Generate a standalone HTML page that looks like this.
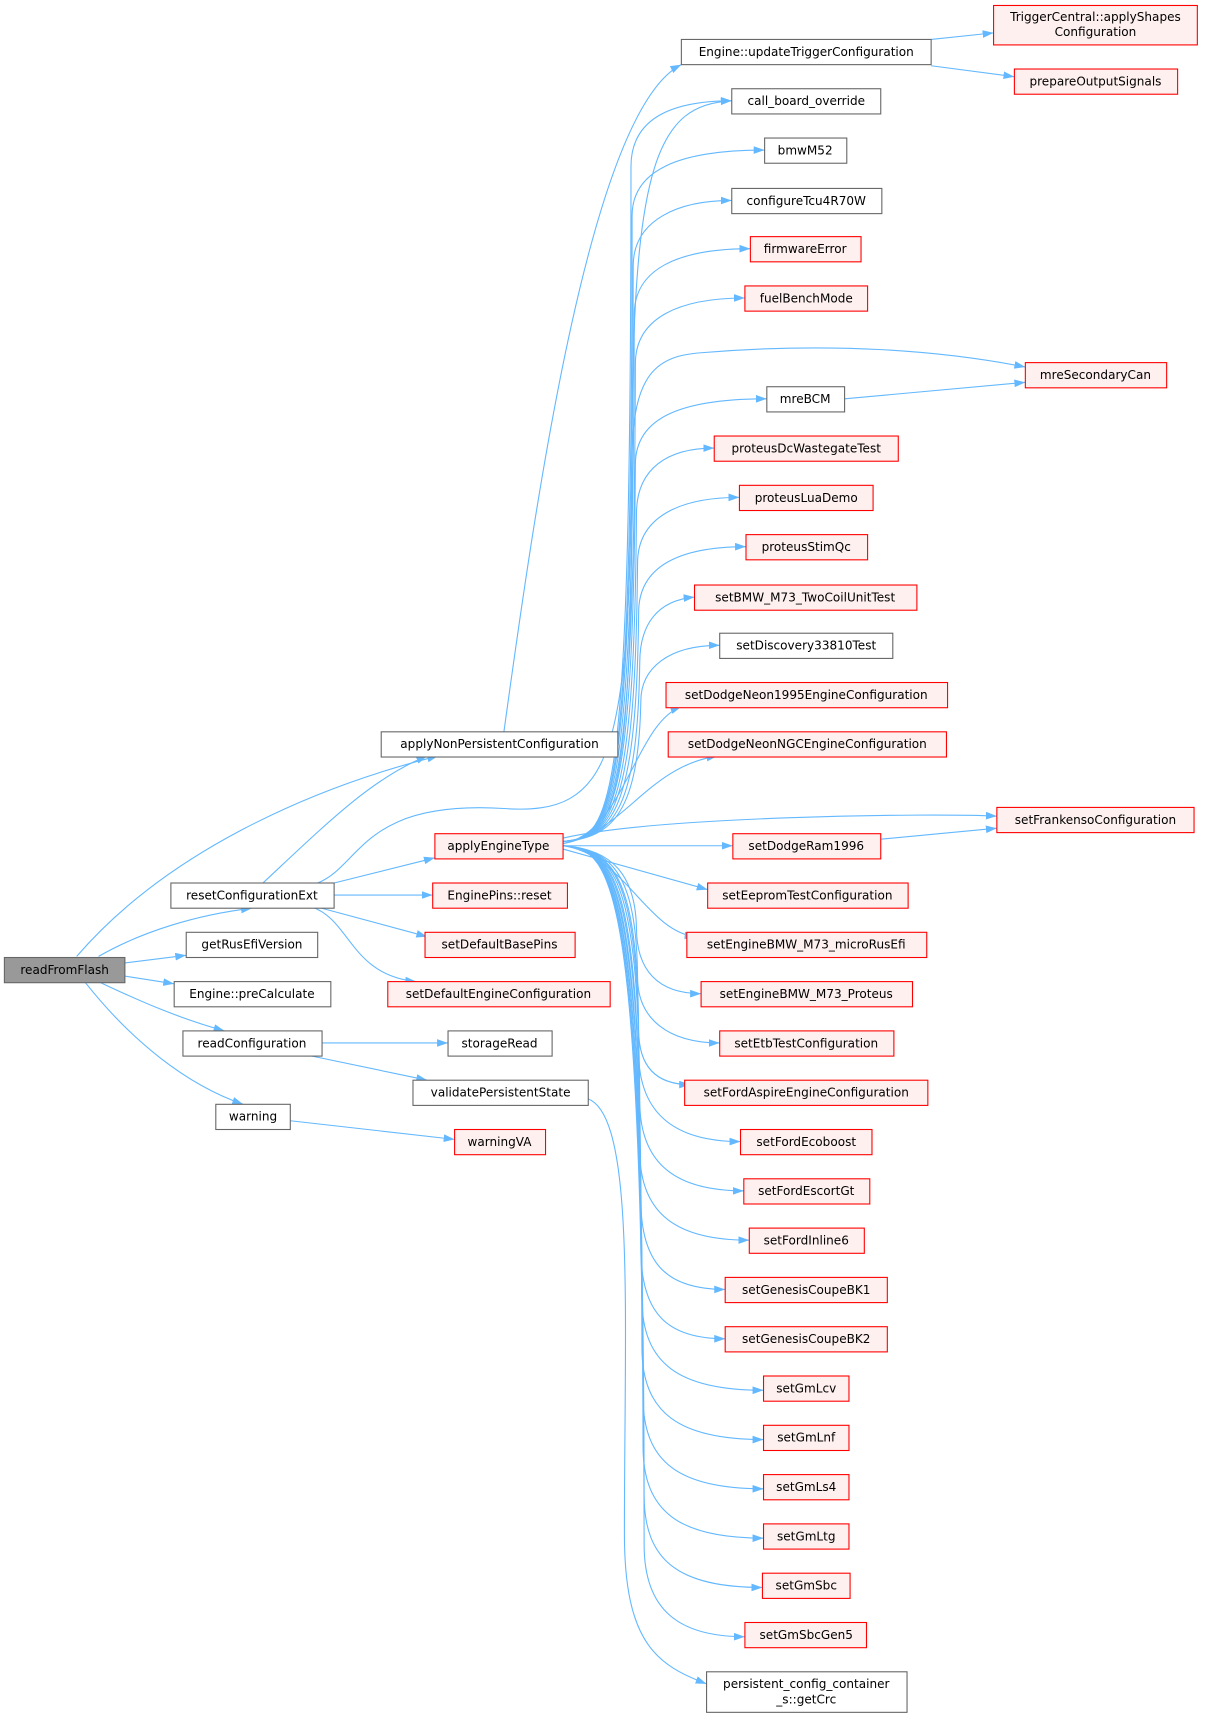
<!DOCTYPE html>
<html><head><meta charset="utf-8"><style>
html,body{margin:0;padding:0;background:#fff;}
svg{display:block}
text{font-family:"DejaVu Sans","Liberation Sans",sans-serif;font-size:11px;fill:#000;text-anchor:middle}
.n{fill:#fff;stroke:#666;stroke-width:1}
.r{fill:#fff0f0;stroke:#f00;stroke-width:1}
.g{fill:#999;stroke:#666;stroke-width:1}
path.e{fill:none;stroke:#63b8ff;stroke-width:1}
</style></head><body>
<svg width="1205" height="1720" viewBox="0 0 1100 1570" preserveAspectRatio="none">
<defs><marker id="a" markerUnits="userSpaceOnUse" markerWidth="10" markerHeight="8" refX="10" refY="3.5" orient="auto"><path d="M0,0 L10,3.5 L0,7 z" fill="#63b8ff"/></marker></defs>
<g marker-end="url(#a)">
<path class="e" d="M70,873 C150,780 280,720 400,690"/>
<path class="e" d="M90,873 C130,850 180,835 230,829"/>
<path class="e" d="M114,879 L170,872"/>
<path class="e" d="M114,891 L159,898"/>
<path class="e" d="M92,897 C130,915 165,930 205,941"/>
<path class="e" d="M78,897 C120,950 170,990 222,1008"/>
<path class="e" d="M240,806 C300,750 340,710 390,690"/>
<path class="e" d="M290,806 C330,790 330,730 460,738 C560,745 575,690 577,400 C578,150 600,95 668,92"/>
<path class="e" d="M305,806 L397,783"/>
<path class="e" d="M305,817 L395,817"/>
<path class="e" d="M290,828 L390,855"/>
<path class="e" d="M285,828 C320,840 320,890 380,896"/>
<path class="e" d="M294,952 L409,952"/>
<path class="e" d="M280,963 L390,986"/>
<path class="e" d="M265,1023 L415,1040"/>
<path class="e" d="M460,668 C490,450 540,100 622,59"/>
<path class="e" d="M850,36 L907,30"/>
<path class="e" d="M850,60 L926,70"/>
<path class="e" d="M771,364 L936,349"/>
<path class="e" d="M804,766 L910,756"/>
<path class="e" d="M514,765 C600,745 850,742 910,745"/>
<path class="e" d="M514,768 C560,765 577,740 577,420 C577,340 600,325 640,322 C760,312 860,320 936,335"/>
<path class="e" d="M537,1003 C580,1020 570,1200 570,1400 C570,1500 600,1520 645,1537"/>
<path class="e" d="M514,772 L669,772"/>
<path class="e" d="M514,775 L646,812"/>
<path class="e" d="M514,768 C560,765 576,740 576,152 C576,110 610,92 668,92"/>
<path class="e" d="M514,768 C560,765 577,740 577,197 C577,155 620,137 698,137"/>
<path class="e" d="M514,768 C560,765 577,740 578,243 C578,200 620,183 668,183"/>
<path class="e" d="M514,768 C560,765 578,740 579,287 C579,245 620,227 685,227"/>
<path class="e" d="M514,768 C560,765 579,740 580,332 C580,290 620,272 680,272"/>
<path class="e" d="M514,768 C560,765 578,740 580,424 C580,382 620,364 700,364"/>
<path class="e" d="M514,768 C560,765 579,740 581,469 C581,427 610,409 652,409"/>
<path class="e" d="M514,768 C560,765 580,740 582,514 C582,472 620,454 675,454"/>
<path class="e" d="M514,768 C560,765 581,740 583,559 C583,517 620,499 681,499"/>
<path class="e" d="M514,768 C560,765 582,740 584,605 C584,570 600,548 634,545"/>
<path class="e" d="M514,768 C560,765 583,740 585,640 C585,610 610,589 657,589"/>
<path class="e" d="M514,770 C570,760 580,660 622,645"/>
<path class="e" d="M514,770 C570,760 590,700 655,690"/>
<path class="e" d="M514,772 C570,780 590,850 635,855"/>
<path class="e" d="M514,772 C560,775 580,800 581,847 C581,885 600,907 640,907"/>
<path class="e" d="M514,772 C560,775 581,800 582,892 C582,930 610,952 657,952"/>
<path class="e" d="M514,772 C560,775 582,800 583,940 C583,975 600,990 630,990"/>
<path class="e" d="M514,772 C560,775 582,800 583,960 C583,1020 620,1042 676,1042"/>
<path class="e" d="M514,772 C560,775 583,800 584,1005 C584,1065 620,1087 679,1087"/>
<path class="e" d="M514,772 C560,775 583,800 584,1050 C584,1110 620,1132 684,1132"/>
<path class="e" d="M514,772 C560,775 584,800 585,1095 C585,1155 610,1177 662,1177"/>
<path class="e" d="M514,772 C560,775 584,800 585,1140 C585,1200 610,1222 662,1222"/>
<path class="e" d="M514,772 C560,775 585,800 586,1185 C586,1245 620,1269 697,1269"/>
<path class="e" d="M514,772 C560,775 585,800 586,1230 C586,1290 620,1314 697,1314"/>
<path class="e" d="M514,772 C560,775 586,800 587,1275 C587,1335 620,1359 697,1359"/>
<path class="e" d="M514,772 C560,775 586,800 587,1320 C587,1380 620,1404 697,1404"/>
<path class="e" d="M514,772 C560,775 587,800 588,1365 C588,1425 620,1449 696,1449"/>
<path class="e" d="M514,772 C560,775 587,800 588,1410 C588,1470 620,1494 680,1494"/>
</g>
<rect class="g" x="4" y="874" width="110" height="23"/><text x="59" y="889">readFromFlash</text>
<rect class="n" x="348" y="668" width="216" height="23"/><text x="456" y="683">applyNonPersistentConfiguration</text>
<rect class="n" x="156" y="806" width="149" height="23"/><text x="230" y="821">resetConfigurationExt</text>
<rect class="n" x="170" y="851" width="120" height="23"/><text x="230" y="866">getRusEfiVersion</text>
<rect class="n" x="159" y="896" width="143" height="23"/><text x="230" y="911">Engine::preCalculate</text>
<rect class="n" x="167" y="941" width="127" height="23"/><text x="230" y="956">readConfiguration</text>
<rect class="n" x="197" y="1008" width="68" height="23"/><text x="231" y="1023">warning</text>
<rect class="r" x="397" y="761" width="117" height="23"/><text x="455" y="776">applyEngineType</text>
<rect class="r" x="395" y="806" width="123" height="23"/><text x="456" y="821">EnginePins::reset</text>
<rect class="r" x="388" y="851" width="137" height="23"/><text x="456" y="866">setDefaultBasePins</text>
<rect class="r" x="354" y="896" width="203" height="23"/><text x="455" y="911">setDefaultEngineConfiguration</text>
<rect class="n" x="409" y="941" width="95" height="23"/><text x="456" y="956">storageRead</text>
<rect class="n" x="377" y="986" width="160" height="23"/><text x="457" y="1001">validatePersistentState</text>
<rect class="r" x="415" y="1031" width="83" height="23"/><text x="456" y="1046">warningVA</text>
<rect class="n" x="622" y="36" width="228" height="23"/><text x="736" y="51">Engine::updateTriggerConfiguration</text>
<rect class="r" x="907" y="5" width="186" height="36"/><text x="1000" y="19">TriggerCentral::applyShapes</text><text x="1000" y="33">Configuration</text>
<rect class="r" x="926" y="63" width="149" height="23"/><text x="1000" y="78">prepareOutputSignals</text>
<rect class="n" x="668" y="81" width="136" height="23"/><text x="736" y="96">call_board_override</text>
<rect class="n" x="698" y="126" width="75" height="23"/><text x="735" y="141">bmwM52</text>
<rect class="n" x="668" y="172" width="137" height="23"/><text x="736" y="187">configureTcu4R70W</text>
<rect class="r" x="685" y="216" width="101" height="23"/><text x="735" y="231">firmwareError</text>
<rect class="r" x="680" y="261" width="112" height="23"/><text x="736" y="276">fuelBenchMode</text>
<rect class="r" x="936" y="331" width="129" height="23"/><text x="1000" y="346">mreSecondaryCan</text>
<rect class="n" x="700" y="353" width="71" height="23"/><text x="735" y="368">mreBCM</text>
<rect class="r" x="652" y="398" width="168" height="23"/><text x="736" y="413">proteusDcWastegateTest</text>
<rect class="r" x="675" y="443" width="122" height="23"/><text x="736" y="458">proteusLuaDemo</text>
<rect class="r" x="681" y="488" width="111" height="23"/><text x="736" y="503">proteusStimQc</text>
<rect class="r" x="634" y="534" width="203" height="23"/><text x="735" y="549">setBMW_M73_TwoCoilUnitTest</text>
<rect class="n" x="657" y="578" width="158" height="23"/><text x="736" y="593">setDiscovery33810Test</text>
<rect class="r" x="608" y="623" width="257" height="23"/><text x="736" y="638">setDodgeNeon1995EngineConfiguration</text>
<rect class="r" x="610" y="668" width="254" height="23"/><text x="737" y="683">setDodgeNeonNGCEngineConfiguration</text>
<rect class="r" x="910" y="737" width="180" height="23"/><text x="1000" y="752">setFrankensoConfiguration</text>
<rect class="r" x="669" y="761" width="135" height="23"/><text x="736" y="776">setDodgeRam1996</text>
<rect class="r" x="646" y="806" width="183" height="23"/><text x="737" y="821">setEepromTestConfiguration</text>
<rect class="r" x="627" y="851" width="219" height="23"/><text x="736" y="866">setEngineBMW_M73_microRusEfi</text>
<rect class="r" x="640" y="896" width="193" height="23"/><text x="736" y="911">setEngineBMW_M73_Proteus</text>
<rect class="r" x="657" y="941" width="159" height="23"/><text x="736" y="956">setEtbTestConfiguration</text>
<rect class="r" x="625" y="986" width="222" height="23"/><text x="736" y="1001">setFordAspireEngineConfiguration</text>
<rect class="r" x="676" y="1031" width="120" height="23"/><text x="736" y="1046">setFordEcoboost</text>
<rect class="r" x="679" y="1076" width="115" height="23"/><text x="736" y="1091">setFordEscortGt</text>
<rect class="r" x="684" y="1121" width="105" height="23"/><text x="736" y="1136">setFordInline6</text>
<rect class="r" x="662" y="1166" width="148" height="23"/><text x="736" y="1181">setGenesisCoupeBK1</text>
<rect class="r" x="662" y="1211" width="148" height="23"/><text x="736" y="1226">setGenesisCoupeBK2</text>
<rect class="r" x="697" y="1256" width="78" height="23"/><text x="736" y="1271">setGmLcv</text>
<rect class="r" x="697" y="1301" width="78" height="23"/><text x="736" y="1316">setGmLnf</text>
<rect class="r" x="697" y="1346" width="78" height="23"/><text x="736" y="1361">setGmLs4</text>
<rect class="r" x="697" y="1391" width="78" height="23"/><text x="736" y="1406">setGmLtg</text>
<rect class="r" x="696" y="1436" width="80" height="23"/><text x="736" y="1451">setGmSbc</text>
<rect class="r" x="680" y="1481" width="111" height="23"/><text x="736" y="1496">setGmSbcGen5</text>
<rect class="n" x="645" y="1526" width="183" height="37"/><text x="736" y="1541">persistent_config_container</text><text x="736" y="1555">_s::getCrc</text>
</svg>
</body></html>
